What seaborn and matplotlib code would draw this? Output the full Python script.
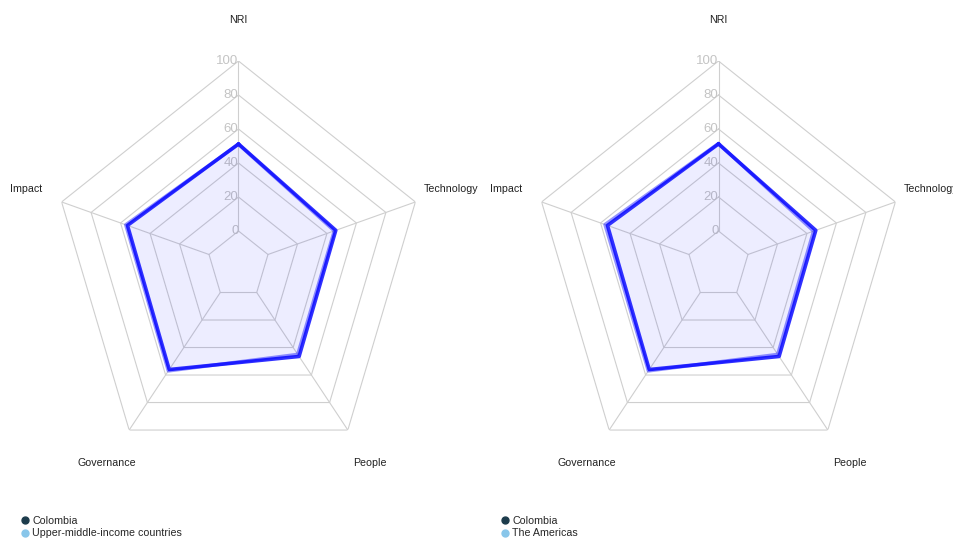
import numpy as np
import matplotlib
matplotlib.use("Agg")
import matplotlib.pyplot as plt
from matplotlib.lines import Line2D
import seaborn as sns

# Pillar scores (0-100)
categories = ["NRI", "Technology", "People", "Governance", "Impact"]
colombia = [51.2, 46.0, 46.5, 56.0, 55.3]
upper_middle_income = [51.0, 45.0, 45.0, 57.0, 56.5]
the_americas = [51.5, 44.5, 45.0, 57.0, 57.0]
ring_ticks = [0, 20, 40, 60, 80, 100]

panels = [
    ("Upper-middle-income countries", upper_middle_income),
    ("The Americas", the_americas),
]

sns.set_theme(style="white")
plt.rcParams["font.family"] = ["Liberation Sans", "DejaVu Sans"]

W, H = 954, 540
fig = plt.figure(figsize=(W / 100, H / 100), dpi=100)

n = len(categories)
angles = np.linspace(0, 2 * np.pi, n, endpoint=False)
closed = np.append(angles, angles[0])

GRID = "#cfcfcf"
MAIN = "#3030ff"
COMP = "#0000ff"

for k, (comp_name, comp_vals) in enumerate(panels):
    left_px = 52.5 + 480 * k
    ax = fig.add_axes([left_px / W, 71 / H, 372 / W, 408 / H], projection="polar")
    ax.set_aspect("auto")
    ax.set_theta_offset(np.pi / 2)
    ax.set_theta_direction(-1)
    ax.set_ylim(-20, 100)
    ax.grid(False)
    ax.spines["polar"].set_visible(False)
    ax.set_xticks([])
    ax.set_yticks([])
    ax.patch.set_alpha(0)

    # pentagonal rings and spokes
    for v in ring_ticks:
        ax.plot(closed, [v] * (n + 1), color=GRID, lw=0.8, zorder=1)
    for a in angles:
        ax.plot([a, a], [ring_ticks[0], ring_ticks[-1]], color=GRID, lw=0.8, zorder=1)

    # ring value labels along the top spoke
    for v in ring_ticks:
        ax.text(0, v, str(v), ha="right", va="center", color="#c4c4c4",
                fontsize=9.5, zorder=2)

    # category labels
    for a, lab in zip(angles, categories):
        ax.text(a, 124, lab, ha="center", va="center", color="#222222",
                fontsize=7.7, clip_on=False)

    main_closed = colombia + colombia[:1]
    comp_closed = comp_vals + comp_vals[:1]

    ax.fill(closed, main_closed, color="blue", alpha=0.035, lw=0, zorder=3)
    ax.fill(closed, comp_closed, color="blue", alpha=0.035, lw=0, zorder=3)

    sns.lineplot(x=closed, y=main_closed, sort=False, estimator=None,
                 color=MAIN, lw=2.6, ax=ax, zorder=4)
    sns.lineplot(x=closed, y=comp_closed, sort=False, estimator=None,
                 color=COMP, alpha=0.42, lw=2.5, ax=ax, zorder=5)
    ax.set_xlabel("")
    ax.set_ylabel("")

    handles = [
        Line2D([], [], ls="none", marker="o", ms=5, color="#1d3c4c"),
        Line2D([], [], ls="none", marker="o", ms=5, color="#88c6ea"),
    ]
    fig.legend(handles, ["Colombia", comp_name], loc="upper left",
               bbox_to_anchor=((21 + 480 * k) / W, 1 - 516 / H),
               frameon=False, fontsize=7.7, handlelength=0.7,
               handletextpad=0.35, labelspacing=0.22, borderpad=0,
               borderaxespad=0)

fig.savefig("out.png", dpi=100)
